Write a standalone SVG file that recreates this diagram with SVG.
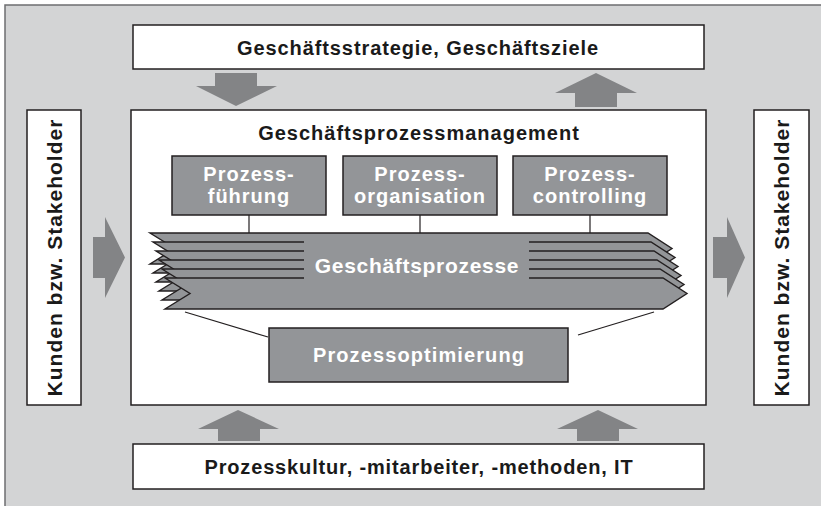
<svg xmlns="http://www.w3.org/2000/svg" width="821" height="506" viewBox="0 0 821 506">
<defs>
<style>
.box{fill:#ffffff;stroke:#231f20;stroke-width:1.5}
.gbox{fill:#939598;stroke:#231f20;stroke-width:1.5}
.arr{fill:#838486;stroke:none}
.t{font-family:"Liberation Sans",Arial,sans-serif;font-weight:bold;fill:#1a1a1a;text-anchor:middle;font-size:20px;letter-spacing:0.9px}
.w{font-family:"Liberation Sans",Arial,sans-serif;font-weight:bold;fill:#ffffff;text-anchor:middle;font-size:20px;letter-spacing:1px}
.ln{stroke:#231f20;stroke-width:1.2;fill:none}
.layer{fill:#939598;stroke:#231f20;stroke-width:1.4;stroke-linejoin:miter}
</style>
</defs>
<rect x="5" y="5" width="816" height="501" fill="#d3d4d5"/>
<path d="M5 506 V5 H821" fill="none" stroke="#6d6e70" stroke-width="1.5"/>

<g id="connectors">
<polygon class="arr" points="215,73 257,73 257,86 277,86 236,106 196,86 215,86"/>
<polygon class="arr" points="596,73 637,93 617,93 617,107 575,107 575,93 555,93"/>
<polygon class="arr" points="93,237 105,237 105,217 125,257.5 105,298 105,278 93,278"/>
<polygon class="arr" points="713,237 727,237 727,217 745,257.5 727,298 727,278 713,278"/>
<polygon class="arr" points="238,410 279,429 260,429 260,441 218,441 218,429 198,429"/>
<polygon class="arr" points="598,410 638,429 619,429 619,441 577,441 577,429 557,429"/>
</g>

<g id="top-box">
<rect class="box" x="133" y="25" width="571" height="44"/>
<text class="t" x="418" y="55">Geschäftsstrategie, Geschäftsziele</text>
</g>

<g id="left-box">
<rect class="box" x="27" y="110" width="54" height="295"/>
<text class="t" style="font-size:21px;letter-spacing:1px" transform="translate(61.5,257.5) rotate(-90)">Kunden bzw. Stakeholder</text>
</g>

<g id="right-box">
<rect class="box" x="754" y="110" width="55" height="295"/>
<text class="t" style="font-size:21px;letter-spacing:1px" transform="translate(789,257.5) rotate(-90)">Kunden bzw. Stakeholder</text>
</g>

<g id="bottom-box">
<rect class="box" x="133" y="444" width="571" height="45"/>
<text class="t" x="419" y="474" style="letter-spacing:0.85px">Prozesskultur, -mitarbeiter, -methoden, IT</text>
</g>

<g id="main-box">
<rect class="box" x="131" y="110" width="575" height="295"/>
<text class="t" x="419" y="140" style="letter-spacing:1px">Geschäftsprozessmanagement</text>
</g>

<g id="inner-connectors">
<line class="ln" x1="249" y1="215" x2="249" y2="233"/>
<line class="ln" x1="420" y1="215" x2="420" y2="233"/>
<line class="ln" x1="590" y1="215" x2="590" y2="233"/>
<line class="ln" x1="185" y1="312" x2="268" y2="337"/>
<line class="ln" x1="578" y1="335" x2="654" y2="312"/>
</g>

<g id="prozessfuehrung">
<rect class="gbox" x="172" y="156" width="154" height="59"/>
<text class="w" x="249" y="181">Prozess-</text>
<text class="w" x="249" y="203">führung</text>
</g>

<g id="prozessorganisation">
<rect class="gbox" x="343" y="156" width="154" height="59"/>
<text class="w" x="420" y="181">Prozess-</text>
<text class="w" x="420" y="203">organisation</text>
</g>

<g id="prozesscontrolling">
<rect class="gbox" x="513" y="156" width="154" height="59"/>
<text class="w" x="590" y="181">Prozess-</text>
<text class="w" x="590" y="203">controlling</text>
</g>

<g id="geschaeftsprozesse">
<polygon class="layer" points="150,233 648,233 672,248.5 648,264 150,264 175,248.5"/>
<polygon class="layer" points="153,242 651,242 675,257.5 651,273 153,273 178,257.5"/>
<polygon class="layer" points="156,251 654,251 678,266.5 654,282 156,282 181,266.5"/>
<polygon class="layer" points="159,260 657,260 681,275.5 657,291 159,291 184,275.5"/>
<polygon class="layer" points="162,269 660,269 684,284.5 660,300 162,300 187,284.5"/>
<polygon class="layer" points="165,278 663,278 687,293.5 663,309 165,309 190,293.5"/>
<rect x="304" y="235" width="225" height="46" fill="#939598"/>
<text class="w" x="417" y="273" style="font-size:21px;letter-spacing:0.7px">Geschäftsprozesse</text>
</g>

<g id="prozessoptimierung">
<rect class="gbox" x="269" y="328" width="299" height="54"/>
<text class="w" x="419" y="362" style="letter-spacing:1.1px">Prozessoptimierung</text>
</g>
</svg>
